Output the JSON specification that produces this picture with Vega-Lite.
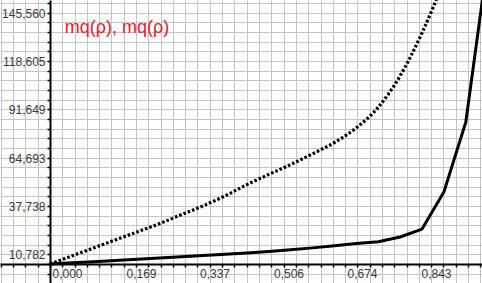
{
  "$schema": "https://vega.github.io/schema/vega-lite/v6.json",
  "width": 482,
  "height": 283,
  "autosize": "none",
  "padding": 0,
  "background": "white",
  "config": {"view": {"stroke": null}},
  "datasets": {
    "curves": [
      {"rho": 0.0, "mq": 0.0, "series": "solid"},
      {"rho": 0.05, "mq": 0.65, "series": "solid"},
      {"rho": 0.1, "mq": 1.3, "series": "solid"},
      {"rho": 0.15, "mq": 1.95, "series": "solid"},
      {"rho": 0.2, "mq": 2.6, "series": "solid"},
      {"rho": 0.25, "mq": 3.3, "series": "solid"},
      {"rho": 0.3, "mq": 4.0, "series": "solid"},
      {"rho": 0.35, "mq": 4.7, "series": "solid"},
      {"rho": 0.4, "mq": 5.4, "series": "solid"},
      {"rho": 0.45, "mq": 6.2, "series": "solid"},
      {"rho": 0.5, "mq": 7.0, "series": "solid"},
      {"rho": 0.55, "mq": 8.0, "series": "solid"},
      {"rho": 0.6, "mq": 9.0, "series": "solid"},
      {"rho": 0.65, "mq": 10.2, "series": "solid"},
      {"rho": 0.7, "mq": 11.5, "series": "solid"},
      {"rho": 0.75, "mq": 12.4, "series": "solid"},
      {"rho": 0.8, "mq": 15.1, "series": "solid"},
      {"rho": 0.85, "mq": 19.5, "series": "solid"},
      {"rho": 0.9, "mq": 40.2, "series": "solid"},
      {"rho": 0.95, "mq": 79.2, "series": "solid"},
      {"rho": 1.0, "mq": 169.0, "series": "solid"},
      {"rho": 0.0, "mq": 0.0, "series": "dotted"},
      {"rho": 0.1, "mq": 9.0, "series": "dotted"},
      {"rho": 0.2, "mq": 18.0, "series": "dotted"},
      {"rho": 0.25, "mq": 22.5, "series": "dotted"},
      {"rho": 0.3, "mq": 27.5, "series": "dotted"},
      {"rho": 0.35, "mq": 32.5, "series": "dotted"},
      {"rho": 0.4, "mq": 38.0, "series": "dotted"},
      {"rho": 0.45, "mq": 44.3, "series": "dotted"},
      {"rho": 0.5, "mq": 50.0, "series": "dotted"},
      {"rho": 0.55, "mq": 55.5, "series": "dotted"},
      {"rho": 0.6, "mq": 61.5, "series": "dotted"},
      {"rho": 0.65, "mq": 67.8, "series": "dotted"},
      {"rho": 0.7, "mq": 76.0, "series": "dotted"},
      {"rho": 0.75, "mq": 87.5, "series": "dotted"},
      {"rho": 0.8, "mq": 105.0, "series": "dotted"},
      {"rho": 0.85, "mq": 129.0, "series": "dotted"},
      {"rho": 0.9, "mq": 158.0, "series": "dotted"}
    ],
    "caption": [
      {"rho": 0.034, "mq": 131.7, "label": "mq(ρ), mq(ρ)"}
    ]
  },
  "layer": [
    {
      "data": {"name": "curves"},
      "transform": [{"filter": "datum.series == 'dotted'"}],
      "mark": {"type": "line", "color": "black", "strokeWidth": 3.2, "strokeDash": [2.6, 2.0], "interpolate": "monotone", "clip": true},
      "encoding": {
        "x": {
          "field": "rho", "type": "quantitative",
          "scale": {"domain": [-0.1142, 0.987], "nice": false, "zero": false},
          "axis": {
            "title": null,
            "orient": "bottom",
            "offset": -19,
            "tickCount": 500,
            "values": [-0.1124, -0.0843, -0.0562, -0.0281, 0, 0.0281, 0.0562, 0.0843, 0.1124, 0.1405, 0.169, 0.1967, 0.2248, 0.2529, 0.2810, 0.3091, 0.337, 0.3652, 0.3933, 0.4214, 0.4495, 0.4776, 0.506, 0.5338, 0.5619, 0.5900, 0.6181, 0.6462, 0.674, 0.7024, 0.7305, 0.7586, 0.7867, 0.8148, 0.843, 0.8710, 0.8990, 0.9271, 0.9552, 0.9833],
            "labelExpr": "abs(datum.value/0.168571 - round(datum.value/0.168571)) < 0.02 ? replace(format(datum.value, '.3f'), '.', ',') : ''",
            "labelAlign": "left",
            "labelBaseline": "top",
            "labelOffset": 2,
            "labelPadding": 1,
            "labelFont": "Liberation Sans Narrow, Liberation Sans, Arial",
            "labelFontSize": 12,
            "labelColor": "#3a3a3a",
            "labelOverlap": false,
            "labelBound": false,
            "labelFlush": false,
            "domain": true,
            "domainColor": "black",
            "domainWidth": 2,
            "ticks": true,
            "tickSize": 3,
            "tickColor": "black",
            "tickWidth": 1.5,
            "grid": true,
            "gridColor": "#c4c4c4",
            "gridWidth": 1
          }
        },
        "y": {
          "field": "mq", "type": "quantitative",
          "scale": {"domain": [-10.6, 147.32], "nice": false, "zero": false},
          "axis": {
            "title": null,
            "orient": "left",
            "offset": -50,
            "tickCount": 500,
            "values": [-5.39111, 0, 5.39111, 10.782, 16.17333, 21.56444, 26.95556, 32.34667, 37.738, 43.12889, 48.52, 53.91111, 59.30222, 64.693, 70.08444, 75.47556, 80.86667, 86.25778, 91.649, 97.04, 102.43111, 107.82222, 113.21333, 118.605, 123.99556, 129.38667, 134.77778, 140.16889, 145.56],
            "labelExpr": "(round(datum.value/5.39111) + 3) % 5 == 0 ? replace(format(datum.value, '.3f'), '.', ',') : ''",
            "labelBaseline": "middle",
            "labelOffset": 10,
            "labelPadding": 2,
            "labelFont": "Liberation Sans Narrow, Liberation Sans, Arial",
            "labelFontSize": 12,
            "labelColor": "#3a3a3a",
            "labelOverlap": false,
            "labelBound": false,
            "labelFlush": false,
            "domain": true,
            "domainColor": "black",
            "domainWidth": 2,
            "ticks": true,
            "tickSize": 3,
            "tickColor": "black",
            "tickWidth": 1.5,
            "grid": true,
            "gridColor": "#c4c4c4",
            "gridWidth": 1
          }
        }
      }
    },
    {
      "data": {"name": "curves"},
      "transform": [{"filter": "datum.series == 'solid'"}],
      "mark": {"type": "line", "color": "black", "strokeWidth": 3, "clip": true},
      "encoding": {
        "x": {"field": "rho", "type": "quantitative"},
        "y": {"field": "mq", "type": "quantitative"}
      }
    },
    {
      "mark": {"type": "rule", "color": "#b8b8b8", "strokeWidth": 3, "clip": true},
      "encoding": {"y": {"datum": 146.9}}
    },
    {
      "data": {"name": "caption"},
      "mark": {"type": "text", "color": "#e8202a", "font": "Liberation Sans, Arial", "fontSize": 18, "align": "left", "baseline": "middle"},
      "encoding": {
        "x": {"field": "rho", "type": "quantitative"},
        "y": {"field": "mq", "type": "quantitative"},
        "text": {"field": "label"}
      }
    }
  ]
}
